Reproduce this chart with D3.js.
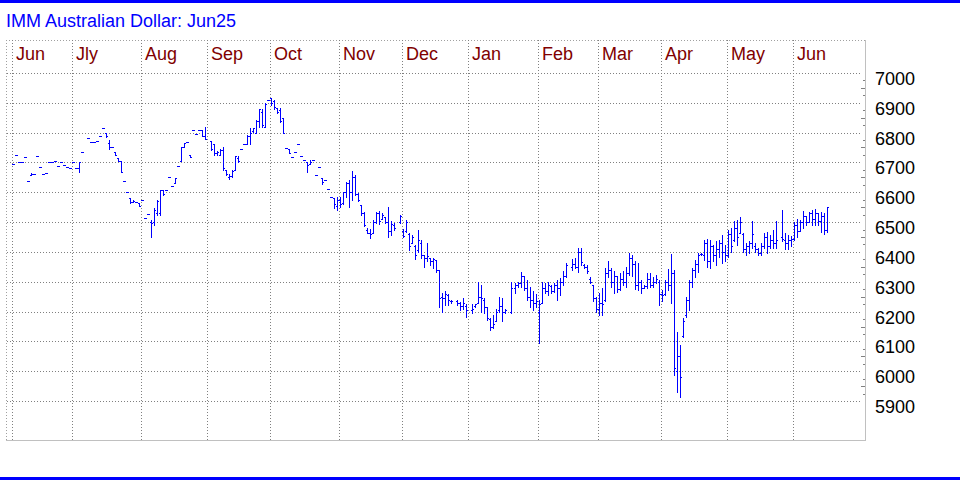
<!DOCTYPE html>
<html><head><meta charset="utf-8">
<script src="https://cdn.jsdelivr.net/npm/d3@7"></script>
<style>html,body{margin:0;padding:0;background:#fff;}svg{display:block;}</style>
</head><body><svg id="c" width="960" height="480"></svg>
<script>
const title = "IMM Australian Dollar: Jun25";
const firstDay = "2024-06-03", lastDay = "2025-06-17";   // weekdays shown
const monthLabels = ["Jun","Jly","Aug","Sep","Oct","Nov","Dec","Jan","Feb","Mar","Apr","May","Jun"];
const yTicks = [5900,6000,6100,6200,6300,6400,6500,6600,6700,6800,6900,7000];
const yDomain = [5770, 7110];

const opens = [
6696,6725,6700,6700,6717,6637,6657,6661,6722,6685,
6661,6666,6700,6701,6705,6687,6700,6691,6684,6680,
6700,6680,6680,6734,null,6781,6767,6767,6773,6789,
6815,6798,6764,6751,6734,6714,6706,6637,6601,6581,
6567,6567,6563,6574,6513,6526,6500,6500,6530,6530,
6608,6608,6650,6620,6632,6687,6706,6751,6767,6726,
6808,6795,6808,6808,6790,null,6770,6762,6730,6725,
6740,6675,6650,6655,6675,6715,6744,6762,6761,6790,
6805,6800,6840,6870,6820,6909,6917,6905,6881,6875,
6848,6747,6744,6719,6736,6762,6721,6708,6702,6695,
6708,6658,6684,6649,6641,6610,6583,6580,6555,6575,
6565,6600,6630,6600,6650,6595,6557,6530,6475,6465,
6465,6500,6530,6510,6516,6500,6470,6490,null,6500,
6470,6470,6460,6430,6420,6405,6430,6390,6380,6379,
6370,6373,6340,6250,6245,6255,6235,null,6235,6230,
6220,6220,null,6205,6220,6230,6250,6240,6215,6175,
6150,6170,6205,6220,6200,null,6200,6280,6290,6295,
6320,6280,6250,6240,6230,6200,6230,6280,6270,6285,
6270,6290,6280,6300,6320,null,6350,6360,6350,6400,
6355,6350,6310,6290,6245,6210,6230,6240,6330,6340,
6300,6320,6275,6310,6300,6330,6380,6360,6290,6300,
6280,6285,6310,6290,6300,6300,6260,6260,6300,6290,
6330,6000,6050,6120,6190,6240,6300,6340,6360,6392,
6390,6430,6370,6420,6390,6410,6430,6400,6390,6460,
6440,6480,6465,6460,6410,6420,6430,6420,6410,6395,
6420,6450,6420,6440,6430,null,6450,6440,6430,6440,
6445,6490,6470,6500,6520,6500,6530,6510,6530,6505,
6520,6475];

const highs = [
6696,6725,6700,6700,6717,6637,6664,6661,6722,6685,
6661,6666,6700,6701,6705,6687,6700,6691,6684,6680,
6700,6680,6700,6734,null,6781,6767,6767,6773,6789,
6815,6798,6775,6751,6734,6714,6706,6637,6601,6581,
6574,6567,6563,6574,6513,6526,6507,6546,6574,6608,
6608,6608,6650,6620,6649,6687,6751,6766,6767,6726,
6808,6795,6808,6808,6820,null,6770,6762,6739,6744,
6753,6675,6661,6675,6721,6721,6744,6762,6792,6816,
6816,6842,6878,6878,6898,6909,6917,6909,6881,6881,
6848,6747,6744,6719,6736,6762,6721,6708,6702,6708,
6708,6658,6684,6649,6641,6610,6583,6580,6583,6585,
6602,6635,6641,6672,6658,6597,6557,6535,6479,6476,
6507,6535,6538,6532,6516,6552,6502,6498,null,6524,
6476,6507,6463,6457,6423,6474,6440,6390,6429,6379,
6379,6373,6340,6262,6270,6259,6239,null,6239,6233,
6245,6226,null,6226,6226,6300,6290,6245,6217,6179,
6189,6208,6248,6245,6210,null,6300,6295,6300,6333,
6320,6307,6283,6270,6260,6239,6300,6295,6300,6290,
6295,6307,6312,6335,6362,null,6376,6380,6412,6412,
6359,6357,6317,6290,6250,6262,6279,6345,6368,6345,
6337,6320,6329,6337,6351,6396,6390,6368,6362,6306,
6290,6329,6331,6317,6323,6306,6273,6306,6342,6393,
6340,6133,6089,6178,6250,6306,6345,6373,6398,6396,
6440,6443,6440,6423,6435,6440,6457,6423,6474,6479,
6502,6507,6518,6463,6429,6435,6504,6429,6412,6429,
6463,6468,6457,6474,6502,null,6541,6463,6457,6452,
6500,6510,6507,6538,6520,6535,6541,6543,6530,6535,
6530,6552];

const lows = [
6696,6725,6700,6700,6717,6637,6657,6661,6722,6685,
6661,6666,6700,6701,6705,6687,6700,6691,6684,6680,
6700,6680,6667,6734,null,6781,6767,6767,6773,6789,
6815,6784,6744,6751,6725,6706,6667,6637,6601,6563,
6567,6567,6555,6574,6513,6526,6451,6490,6524,6524,
6591,6608,6650,6620,6632,6687,6706,6751,6767,6717,
6808,6795,6808,6790,6778,null,6740,6725,6725,6725,
6675,6658,6646,6652,6675,6702,6744,6762,6761,6761,
6803,6797,6820,6818,6818,6909,6892,6878,6865,6836,
6800,6747,6733,6719,6736,6762,6721,6708,6669,6695,
6708,6658,6684,6628,6641,6610,6583,6546,6539,6552,
6561,6585,6552,6574,6591,6569,6524,6487,6463,6446,
6465,6496,6494,6510,6498,6451,6457,6474,null,6498,
6449,6468,6407,6429,6376,6401,6379,6351,6368,6357,
6346,6334,6217,6200,6223,6223,6230,null,6223,6206,
6208,6183,null,6195,6217,6228,6200,6195,6172,6139,
6145,6170,6200,6170,6195,null,6195,6262,6284,6283,
6272,6239,6217,6206,6215,6094,6228,6262,6256,6262,
6267,6239,6256,6290,6317,null,6340,6345,6334,6357,
6345,6329,6295,6234,6200,6189,6189,6237,6317,6283,
6262,6265,6273,6290,6284,6323,6320,6275,6273,6262,
6279,6279,6284,6284,6295,6223,6234,6256,6273,6228,
5988,5932,5915,6116,6183,6206,6284,6317,6334,6390,
6373,6351,6345,6368,6357,6384,6362,6368,6384,6401,
6435,6424,6463,6401,6390,6396,6412,6401,6390,6390,
6412,6396,6412,6412,6412,null,6435,6409,6410,6420,
6440,6450,6470,6480,6490,6500,6490,6490,6490,6468,
6460,6468];

const closes = [
6696,6725,6700,6700,6717,6637,6662,6661,6722,6685,
6661,6666,6700,6701,6705,6687,6700,6691,6684,6680,
6700,6680,6700,6734,null,6781,6767,6767,6773,6789,
6815,6790,6751,6751,6725,6706,6667,6637,6601,6567,
6570,6567,6555,6574,6513,6526,6497,6540,6570,6608,
6595,6608,6650,6620,6649,6687,6751,6766,6767,6717,
6808,6795,6808,6790,6778,null,6745,6730,6735,6740,
6680,6660,6655,6670,6721,6705,6744,6762,6790,6800,
6816,6840,6878,6825,6895,6909,6900,6885,6870,6840,
6800,6747,6733,6719,6736,6762,6721,6708,6690,6700,
6708,6658,6684,6635,6641,6610,6583,6560,6575,6560,
6600,6630,6600,6650,6595,6575,6530,6490,6465,6460,
6500,6530,6505,6525,6500,6470,6495,6480,null,6520,
6455,6500,6420,6450,6390,6440,6390,6380,6385,6370,
6375,6340,6245,6245,6260,6240,6235,null,6230,6220,
6230,6205,null,6210,6225,6250,6245,6215,6180,6150,
6160,6200,6220,6200,6205,null,6280,6290,6295,6320,
6280,6250,6240,6230,6235,6225,6280,6270,6290,6270,
6290,6280,6300,6320,6355,null,6360,6350,6400,6365,
6350,6335,6300,6245,6210,6230,6225,6330,6340,6300,
6320,6275,6310,6300,6330,6380,6360,6290,6300,6280,
6285,6310,6290,6300,6310,6260,6255,6300,6290,6330,
6010,6050,5980,6170,6240,6300,6340,6360,6390,6394,
6430,6370,6420,6390,6410,6430,6400,6390,6460,6420,
6480,6450,6500,6410,6420,6430,6460,6410,6395,6420,
6450,6420,6440,6430,6440,null,6445,6430,6440,6445,
6490,6470,6500,6520,6500,6530,6510,6530,6505,6520,
6475,6552];

const FONT = '"Liberation Sans", Arial, Helvetica, sans-serif';
const svg = d3.select("#c");
const plot = {left: 6, top: 40, right: 865, bottom: 440};

// weekday calendar
const parse = d3.utcParse("%Y-%m-%d");
const days = d3.utcDays(parse(firstDay), d3.utcDay.offset(parse(lastDay), 1))
  .filter(d => d.getUTCDay() % 6 !== 0);

const x = d3.scaleBand().domain(d3.range(days.length))
  .range([12, 12 + days.length * 3.003]).paddingInner(0).paddingOuter(0);
const y = d3.scaleLinear().domain(yDomain).range([plot.bottom, plot.top]);
const py = v => Math.round(y(v));

// blue rules top and bottom
svg.append("rect").attr("x",0).attr("y",0).attr("width",960).attr("height",3).attr("fill","#0000ff");
svg.append("rect").attr("x",0).attr("y",477).attr("width",960).attr("height",3).attr("fill","#0000ff");

// title
svg.append("text").attr("x",6).attr("y",27).attr("fill","#0000ff")
  .attr("font-family",FONT).attr("font-size",18).text(title);

const grid = svg.append("g").attr("stroke","#808080").attr("stroke-width",1)
  .attr("stroke-dasharray","1,2").attr("shape-rendering","crispEdges");
// plot border (dotted top/left)
grid.append("line").attr("x1",plot.left).attr("x2",plot.right).attr("y1",plot.top+0.5).attr("y2",plot.top+0.5).attr("stroke","#a0a0a0");
grid.append("line").attr("x1",plot.left+0.5).attr("x2",plot.left+0.5).attr("y1",plot.top).attr("y2",plot.bottom).attr("stroke","#a0a0a0");
// horizontal gridlines
grid.selectAll("line.h").data(yTicks).join("line").attr("class","h")
  .attr("x1",plot.left+1).attr("x2",862)
  .attr("y1",d=>py(d)+0.5).attr("y2",d=>py(d)+0.5);

// month gridlines and labels
const monthStarts = d3.range(days.length).filter(i => i === 0 || days[i].getUTCMonth() !== days[i-1].getUTCMonth());
grid.selectAll("line.v").data(monthStarts).join("line").attr("class","v")
  .attr("x1",i=>Math.round(x(i))+0.5).attr("x2",i=>Math.round(x(i))+0.5)
  .attr("y1",plot.top).attr("y2",plot.bottom);
svg.append("g").selectAll("text").data(monthStarts).join("text")
  .attr("x",i=>Math.round(x(i))+4).attr("y",60)
  .attr("fill","#800000").attr("font-family",FONT).attr("font-size",18)
  .text((i,k)=>monthLabels[k]);

// right axis and bottom border
svg.append("line").attr("x1",plot.right+0.5).attr("x2",plot.right+0.5).attr("y1",plot.top).attr("y2",plot.bottom+1)
  .attr("stroke","#c0c0c0").attr("shape-rendering","crispEdges");
svg.append("line").attr("x1",plot.left).attr("x2",plot.right+1).attr("y1",plot.bottom+0.5).attr("y2",plot.bottom+0.5)
  .attr("stroke","#c0c0c0").attr("shape-rendering","crispEdges");

// minor ticks on the axis
const minor = d3.range(yTicks[0], yTicks[yTicks.length-1], 25).filter(v => v % 100 !== 0);
svg.append("g").attr("stroke","#808080").attr("shape-rendering","crispEdges")
  .selectAll("line").data(minor).join("line")
  .attr("x1",d => d % 50 === 0 ? plot.right-4 : plot.right-2).attr("x2",plot.right)
  .attr("y1",d=>py(d)+0.5).attr("y2",d=>py(d)+0.5);

// value labels
svg.append("g").attr("transform",`translate(${plot.right+0.5},0)`)
  .call(d3.axisRight(y).tickValues(yTicks).tickSize(0).tickPadding(9.5).tickFormat(d3.format("d")))
  .call(g => g.select(".domain").remove())
  .attr("font-family",FONT).attr("font-size",18).attr("color","#000")
  .selectAll("text").attr("dy",11.5);

// OHLC bars
let p = "";
days.forEach((d,i) => {
  if (highs[i] == null) return;
  const c = Math.floor(x(i) + 1.5);
  const yh = py(highs[i]), yl = py(lows[i]);
  p += `M${c+0.5},${yh}V${yl+1}`;
  p += `M${c-1},${py(opens[i])+0.5}H${c}`;
  p += `M${c+1},${py(closes[i])+0.5}H${c+2}`;
});
svg.append("path").attr("d",p).attr("fill","none").attr("stroke","#0000ff")
  .attr("stroke-width",1).attr("shape-rendering","crispEdges");
</script></body></html>
